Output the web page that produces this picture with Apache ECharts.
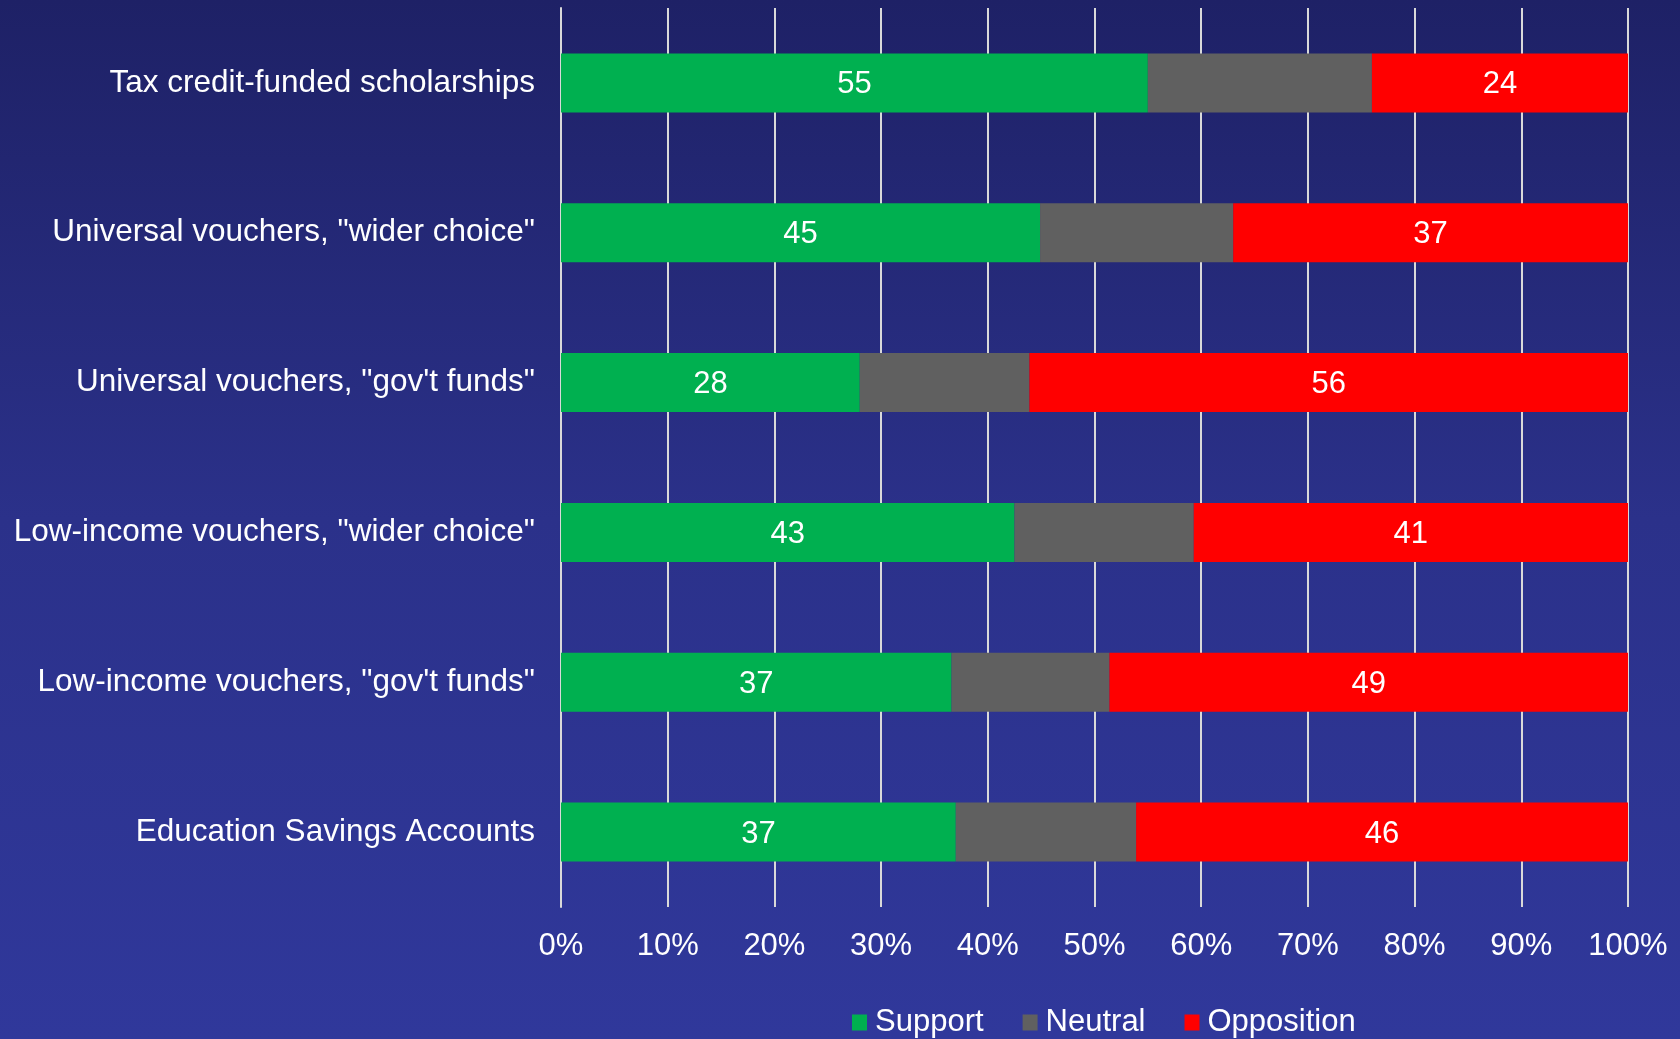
<!DOCTYPE html>
<html>
<head>
<meta charset="utf-8">
<script src="https://cdn.jsdelivr.net/npm/echarts@6/dist/echarts.min.js"></script>
<style>
  html, body { margin: 0; padding: 0; }
  #chart { width: 1680px; height: 1039px; }
</style>
</head>
<body>
<div id="chart"></div>
<script>
// categories, top to bottom
var categories = [
    'Tax credit-funded scholarships',
    'Universal vouchers, "wider choice"',
    'Universal vouchers, "gov\'t funds"',
    'Low-income vouchers, "wider choice"',
    'Low-income vouchers, "gov\'t funds"',
    'Education Savings Accounts'
];
var support = [55, 44.9, 28, 42.5, 36.6, 37];
var neutral = [21, 18.1, 15.9, 16.8, 14.8, 16.9];
var opposition = [24, 37, 56.1, 40.7, 48.6, 46.1];
var xTicks = [0, 10, 20, 30, 40, 50, 60, 70, 80, 90, 100];

var font = 'Liberation Sans, Arial, sans-serif';

var chart = echarts.init(document.getElementById('chart'));

function barLabel(show) {
    return {
        show: show,
        position: 'inside',
        offset: [0, 2],
        color: '#ffffff',
        fontSize: 31,
        fontFamily: font,
        formatter: function (p) { return Math.round(p.value); }
    };
}

var option = {
    backgroundColor: new echarts.graphic.LinearGradient(0, 0, 0, 1, [
        { offset: 0, color: '#1e2166' },
        { offset: 0.5, color: '#2b318a' },
        { offset: 1, color: '#30389b' }
    ]),
    animation: false,
    grid: {
        left: 561,
        right: 52,
        top: 8,
        bottom: 132
    },
    legend: {
        data: ['Support', 'Neutral', 'Opposition'],
        left: 847,
        top: 1002,
        itemWidth: 15,
        itemHeight: 16,
        itemGap: 39,
        icon: 'rect',
        textStyle: {
            color: '#ffffff',
            fontSize: 31,
            fontFamily: font,
            padding: [0, 0, 0, 3]
        }
    },
    xAxis: {
        type: 'value',
        min: xTicks[0],
        max: xTicks[xTicks.length - 1],
        interval: 10,
        axisLine: { show: false },
        axisTick: { show: false },
        axisLabel: {
            color: '#ffffff',
            fontSize: 31,
            fontFamily: font,
            margin: 24,
            formatter: '{value}%'
        },
        splitLine: {
            show: true,
            lineStyle: { color: '#d9d9d9', width: 2 }
        }
    },
    yAxis: {
        type: 'category',
        data: categories,
        inverse: true,
        axisLine: { show: true, lineStyle: { color: '#d9d9d9', width: 2 } },
        axisTick: { show: false },
        axisLabel: {
            color: '#ffffff',
            fontSize: 31.5,
            fontFamily: font,
            margin: 26,
            padding: [6, 0, 0, 0]
        }
    },
    series: [
        {
            name: 'Support',
            type: 'bar',
            stack: 'total',
            barWidth: 59,
            itemStyle: { color: '#00b050' },
            label: barLabel(true),
            data: support
        },
        {
            name: 'Neutral',
            type: 'bar',
            stack: 'total',
            barWidth: 59,
            itemStyle: { color: '#606060' },
            label: barLabel(false),
            data: neutral
        },
        {
            name: 'Opposition',
            type: 'bar',
            stack: 'total',
            barWidth: 59,
            itemStyle: { color: '#ff0000' },
            label: barLabel(true),
            data: opposition
        }
    ]
};

chart.setOption(option);
</script>
</body>
</html>
